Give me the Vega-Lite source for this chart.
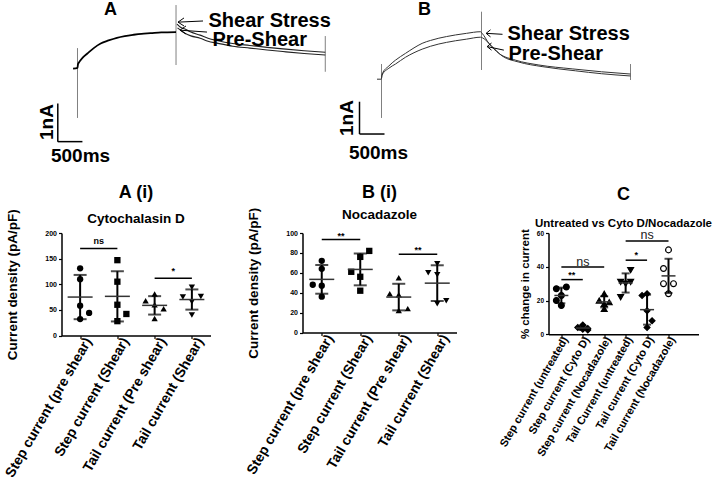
{
  "$schema": "https://vega.github.io/schema/vega-lite/v6.json",
  "padding": {"left": 2.5, "top": 0, "right": 0, "bottom": 0},
  "background": "white",
  "bounds": "full",
  "spacing": 13,
  "resolve": {"scale": {"shape": "independent", "fill": "independent", "xOffset": "independent"}},
  "config": {
    "view": {"stroke": null},
    "font": "Liberation Sans",
    "axis": {"domainColor": "black", "tickColor": "black", "labelColor": "black", "titleColor": "black", "grid": false, "labelFontWeight": "bold", "titleFontWeight": "bold", "domainWidth": 1.5, "tickWidth": 1.2},
    "title": {"color": "black", "subtitleColor": "black", "fontWeight": "bold", "subtitleFontWeight": "bold", "font": "Liberation Sans", "subtitleFont": "Liberation Sans"}
  },
  "datasets": {
    "stepA": [
      {"t": -90, "i": 0}, {"t": 0, "i": 0.02}, {"t": 10, "i": 0.12}, {"t": 50, "i": 0.2}, {"t": 120, "i": 0.31}, {"t": 200, "i": 0.4}, {"t": 330, "i": 0.54}, {"t": 470, "i": 0.66}, {"t": 630, "i": 0.74}, {"t": 800, "i": 0.81}, {"t": 960, "i": 0.855}, {"t": 1140, "i": 0.89}, {"t": 1300, "i": 0.915}, {"t": 1480, "i": 0.93}, {"t": 1700, "i": 0.95}, {"t": 2000, "i": 0.96}
    ],
    "tailA": [
      {"s": "shear", "t": 2020, "i": 1.17}, {"s": "shear", "t": 2100, "i": 1.08}, {"s": "shear", "t": 2180, "i": 1.04}, {"s": "shear", "t": 2300, "i": 0.96}, {"s": "shear", "t": 2490, "i": 0.88}, {"s": "shear", "t": 2650, "i": 0.8}, {"s": "shear", "t": 2830, "i": 0.74}, {"s": "shear", "t": 3150, "i": 0.66}, {"s": "shear", "t": 3500, "i": 0.61}, {"s": "shear", "t": 3850, "i": 0.56}, {"s": "shear", "t": 4170, "i": 0.52}, {"s": "shear", "t": 4600, "i": 0.47}, {"s": "shear", "t": 5030, "i": 0.43},
      {"s": "pre", "t": 2030, "i": 1.07}, {"s": "pre", "t": 2100, "i": 1.0}, {"s": "pre", "t": 2180, "i": 0.93}, {"s": "pre", "t": 2300, "i": 0.86}, {"s": "pre", "t": 2490, "i": 0.8}, {"s": "pre", "t": 2650, "i": 0.72}, {"s": "pre", "t": 2830, "i": 0.67}, {"s": "pre", "t": 3150, "i": 0.59}, {"s": "pre", "t": 3500, "i": 0.54}, {"s": "pre", "t": 3850, "i": 0.49}, {"s": "pre", "t": 4170, "i": 0.45}, {"s": "pre", "t": 4600, "i": 0.4}, {"s": "pre", "t": 5030, "i": 0.36}
    ],
    "spikesA": [
      {"t": 0, "i": 0.54, "i2": -1.29}, {"t": 2000, "i": 1.668, "i2": 0.097}, {"t": 5030, "i": 0.856, "i2": -0.08}
    ],
    "barsA": [
      {"t": -400, "i": -1.91, "t2": 100, "i2": -1.91}, {"t": -400, "i": -1.91, "t2": -400, "i2": -0.91}
    ],
    "arrowsA": [
      {"t": 2040, "i": 1.22, "t2": 2548, "i2": 1.25}, {"t": 2040, "i": 1.22, "t2": 2162, "i2": 1.33}, {"t": 2040, "i": 1.22, "t2": 2162, "i2": 1.12},
      {"t": 2081, "i": 1.01, "t2": 2629, "i2": 0.96}, {"t": 2081, "i": 1.01, "t2": 2203, "i2": 1.12}, {"t": 2081, "i": 1.01, "t2": 2203, "i2": 0.91}
    ],
    "letterA": [{"t": 670, "i": 1.54, "label": "A"}],
    "labelsA": [{"t": 2660, "i": 1.26, "label": "Shear Stress"}, {"t": 2740, "i": 0.765, "label": "Pre-Shear"}],
    "msA": [{"t": 61, "i": -2.287, "label": "500ms"}],
    "naA": [{"t": -629, "i": -1.396, "label": "1nA"}],
    "holdB": [{"t": -90, "i": 0}, {"t": 0, "i": 0}],
    "traceB": [
      {"s": "shear", "t": 0, "i": 0.02}, {"s": "shear", "t": 13, "i": 0.16}, {"s": "shear", "t": 147, "i": 0.41}, {"s": "shear", "t": 280, "i": 0.59}, {"s": "shear", "t": 480, "i": 0.8}, {"s": "shear", "t": 650, "i": 0.97}, {"s": "shear", "t": 813, "i": 1.11}, {"s": "shear", "t": 980, "i": 1.2}, {"s": "shear", "t": 1147, "i": 1.27}, {"s": "shear", "t": 1300, "i": 1.32}, {"s": "shear", "t": 1480, "i": 1.37}, {"s": "shear", "t": 1700, "i": 1.42}, {"s": "shear", "t": 1980, "i": 1.47},
      {"s": "shear", "t": 2013, "i": 1.42}, {"s": "shear", "t": 2147, "i": 1.11}, {"s": "shear", "t": 2347, "i": 0.8}, {"s": "shear", "t": 2680, "i": 0.59}, {"s": "shear", "t": 3147, "i": 0.44}, {"s": "shear", "t": 3813, "i": 0.32}, {"s": "shear", "t": 4400, "i": 0.23}, {"s": "shear", "t": 4980, "i": 0.16},
      {"s": "pre", "t": 0, "i": 0.02}, {"s": "pre", "t": 13, "i": 0.13}, {"s": "pre", "t": 147, "i": 0.34}, {"s": "pre", "t": 280, "i": 0.47}, {"s": "pre", "t": 480, "i": 0.68}, {"s": "pre", "t": 650, "i": 0.82}, {"s": "pre", "t": 813, "i": 0.93}, {"s": "pre", "t": 980, "i": 1.02}, {"s": "pre", "t": 1147, "i": 1.09}, {"s": "pre", "t": 1300, "i": 1.14}, {"s": "pre", "t": 1480, "i": 1.19}, {"s": "pre", "t": 1700, "i": 1.24}, {"s": "pre", "t": 1980, "i": 1.3},
      {"s": "pre", "t": 2020, "i": 1.28}, {"s": "pre", "t": 2213, "i": 1.01}, {"s": "pre", "t": 2413, "i": 0.72}, {"s": "pre", "t": 2747, "i": 0.53}, {"s": "pre", "t": 3213, "i": 0.39}, {"s": "pre", "t": 3880, "i": 0.26}, {"s": "pre", "t": 4400, "i": 0.17}, {"s": "pre", "t": 4980, "i": 0.1}
    ],
    "spikesB": [
      {"t": 0, "i": 0.47, "i2": -1.2}, {"t": 2000, "i": 2.09, "i2": 0.285}, {"t": 4980, "i": 0.47, "i2": -0.025}
    ],
    "barsB": [
      {"t": -440, "i": -1.697, "t2": 60, "i2": -1.697}, {"t": -440, "i": -1.697, "t2": -440, "i2": -0.697}
    ],
    "arrowsB": [
      {"t": 2093, "i": 1.42, "t2": 2420, "i2": 1.39}, {"t": 2093, "i": 1.42, "t2": 2180, "i2": 1.53}, {"t": 2093, "i": 1.42, "t2": 2180, "i2": 1.31},
      {"t": 2113, "i": 1.01, "t2": 2447, "i2": 0.9}, {"t": 2113, "i": 1.01, "t2": 2200, "i2": 1.12}, {"t": 2113, "i": 1.01, "t2": 2200, "i2": 0.9}
    ],
    "letterB": [{"t": 860, "i": 2.15, "label": "B"}],
    "labelsB": [{"t": 2520, "i": 1.399, "label": "Shear Stress"}, {"t": 2540, "i": 0.78, "label": "Pre-Shear"}],
    "msB": [{"t": -60, "i": -2.285, "label": "500ms"}],
    "naB": [{"t": -700, "i": -1.201, "label": "1nA"}],
    "pointsA": [
      {"cat": "Step current (pre shear)", "lane": "C", "v": 131}, {"cat": "Step current (pre shear)", "lane": "C", "v": 110}, {"cat": "Step current (pre shear)", "lane": "C", "v": 58}, {"cat": "Step current (pre shear)", "lane": "R", "v": 44}, {"cat": "Step current (pre shear)", "lane": "C", "v": 32},
      {"cat": "Step current (Shear)", "lane": "C", "v": 147}, {"cat": "Step current (Shear)", "lane": "C", "v": 105}, {"cat": "Step current (Shear)", "lane": "C", "v": 60}, {"cat": "Step current (Shear)", "lane": "R", "v": 42}, {"cat": "Step current (Shear)", "lane": "C", "v": 28},
      {"cat": "Tail current (Pre shear)", "lane": "C", "v": 81}, {"cat": "Tail current (Pre shear)", "lane": "L", "v": 68}, {"cat": "Tail current (Pre shear)", "lane": "C", "v": 60}, {"cat": "Tail current (Pre shear)", "lane": "R", "v": 52}, {"cat": "Tail current (Pre shear)", "lane": "C", "v": 33},
      {"cat": "Tail current (Shear)", "lane": "C", "v": 94}, {"cat": "Tail current (Shear)", "lane": "R", "v": 76}, {"cat": "Tail current (Shear)", "lane": "L", "v": 75}, {"cat": "Tail current (Shear)", "lane": "C", "v": 66}, {"cat": "Tail current (Shear)", "lane": "C", "v": 40}
    ],
    "pointsB": [
      {"cat": "Step current (pre shear)", "lane": "C", "v": 72}, {"cat": "Step current (pre shear)", "lane": "C", "v": 64}, {"cat": "Step current (pre shear)", "lane": "L", "v": 48}, {"cat": "Step current (pre shear)", "lane": "C", "v": 47}, {"cat": "Step current (pre shear)", "lane": "C", "v": 36},
      {"cat": "Step current (Shear)", "lane": "R", "v": 82}, {"cat": "Step current (Shear)", "lane": "C", "v": 76}, {"cat": "Step current (Shear)", "lane": "L", "v": 61}, {"cat": "Step current (Shear)", "lane": "C", "v": 56}, {"cat": "Step current (Shear)", "lane": "C", "v": 42},
      {"cat": "Tail current (Pre shear)", "lane": "C", "v": 55}, {"cat": "Tail current (Pre shear)", "lane": "L", "v": 39}, {"cat": "Tail current (Pre shear)", "lane": "C", "v": 38}, {"cat": "Tail current (Pre shear)", "lane": "R", "v": 24}, {"cat": "Tail current (Pre shear)", "lane": "C", "v": 22},
      {"cat": "Tail current (Shear)", "lane": "C", "v": 69}, {"cat": "Tail current (Shear)", "lane": "L", "v": 60}, {"cat": "Tail current (Shear)", "lane": "C", "v": 58}, {"cat": "Tail current (Shear)", "lane": "R", "v": 32}, {"cat": "Tail current (Shear)", "lane": "C", "v": 29}
    ],
    "pointsC": [
      {"cat": "Step current (untreated)", "lane": "L", "v": 27}, {"cat": "Step current (untreated)", "lane": "R", "v": 28}, {"cat": "Step current (untreated)", "lane": "C", "v": 23}, {"cat": "Step current (untreated)", "lane": "L", "v": 20}, {"cat": "Step current (untreated)", "lane": "C", "v": 17},
      {"cat": "Step current (Cyto D)", "lane": "C", "v": 5.5}, {"cat": "Step current (Cyto D)", "lane": "L", "v": 4}, {"cat": "Step current (Cyto D)", "lane": "R", "v": 3.5}, {"cat": "Step current (Cyto D)", "lane": "C", "v": 3}, {"cat": "Step current (Cyto D)", "lane": "R", "v": 2.5},
      {"cat": "Step current (Nocadazole)", "lane": "C", "v": 24}, {"cat": "Step current (Nocadazole)", "lane": "L", "v": 20}, {"cat": "Step current (Nocadazole)", "lane": "R", "v": 19}, {"cat": "Step current (Nocadazole)", "lane": "C", "v": 18}, {"cat": "Step current (Nocadazole)", "lane": "C", "v": 15},
      {"cat": "Tail Current (untreated)", "lane": "R", "v": 38}, {"cat": "Tail Current (untreated)", "lane": "L", "v": 31}, {"cat": "Tail Current (untreated)", "lane": "C", "v": 30}, {"cat": "Tail Current (untreated)", "lane": "R", "v": 31}, {"cat": "Tail Current (untreated)", "lane": "L", "v": 22},
      {"cat": "Tail current (Cyto D)", "lane": "C", "v": 24}, {"cat": "Tail current (Cyto D)", "lane": "L", "v": 23}, {"cat": "Tail current (Cyto D)", "lane": "C", "v": 14}, {"cat": "Tail current (Cyto D)", "lane": "R", "v": 8}, {"cat": "Tail current (Cyto D)", "lane": "C", "v": 4},
      {"cat": "Tail current (Nocadazole)", "lane": "C", "v": 50}, {"cat": "Tail current (Nocadazole)", "lane": "L", "v": 39}, {"cat": "Tail current (Nocadazole)", "lane": "L", "v": 30}, {"cat": "Tail current (Nocadazole)", "lane": "R", "v": 30}, {"cat": "Tail current (Nocadazole)", "lane": "C", "v": 24}
    ],
    "sigA": [
      {"from": "Step current (pre shear)", "to": "Step current (Shear)", "y": 170, "label": "ns"},
      {"from": "Tail current (Pre shear)", "to": "Tail current (Shear)", "y": 111.5, "label": "*"}
    ],
    "sigB": [
      {"from": "Step current (pre shear)", "to": "Step current (Shear)", "y": 93.4, "label": "**"},
      {"from": "Tail current (Pre shear)", "to": "Tail current (Shear)", "y": 78.7, "label": "**"}
    ],
    "sigCnear": [
      {"from": "Step current (untreated)", "to": "Step current (Cyto D)", "y": 32.4, "label": "**"},
      {"from": "Tail Current (untreated)", "to": "Tail current (Cyto D)", "y": 43.9, "label": "*"}
    ],
    "sigCwide": [
      {"from": "Step current (untreated)", "to": "Step current (Nocadazole)", "mid": "Step current (Cyto D)", "y": 39.8, "label": "ns"},
      {"from": "Tail Current (untreated)", "to": "Tail current (Nocadazole)", "mid": "Tail current (Cyto D)", "y": 55.3, "label": "ns"}
    ]
  },
  "vconcat": [
    {
      "hconcat": [
        {
          "width": 275, "height": 170,
          "encoding": {
            "x": {"field": "t", "type": "quantitative", "scale": {"domain": [-324.8, 5258], "nice": false, "zero": false}, "axis": null},
            "y": {"field": "i", "type": "quantitative", "scale": {"domain": [-2.653, 1.8], "nice": false, "zero": false}, "axis": null}
          },
          "layer": [
            {"data": {"name": "spikesA"}, "mark": {"type": "rule", "color": "#808080", "strokeWidth": 1}, "encoding": {"y2": {"field": "i2"}}},
            {"data": {"name": "stepA"}, "mark": {"type": "line", "color": "black", "strokeWidth": 1.8, "interpolate": "monotone"}, "encoding": {}},
            {"data": {"name": "tailA"}, "mark": {"type": "line", "color": "#222", "strokeWidth": 1.1, "interpolate": "monotone"}, "encoding": {"detail": {"field": "s"}}},
            {"data": {"name": "barsA"}, "mark": {"type": "rule", "color": "black", "strokeWidth": 1.5}, "encoding": {"x2": {"field": "t2"}, "y2": {"field": "i2"}}},
            {"data": {"name": "arrowsA"}, "mark": {"type": "rule", "color": "black", "strokeWidth": 1}, "encoding": {"x2": {"field": "t2"}, "y2": {"field": "i2"}}},
            {"data": {"name": "letterA"}, "mark": {"type": "text", "fontSize": 18, "fontWeight": "bold", "align": "center", "baseline": "middle"}, "encoding": {"text": {"field": "label"}}},
            {"data": {"name": "labelsA"}, "mark": {"type": "text", "fontSize": 20, "fontWeight": "bold", "align": "left", "baseline": "middle"}, "encoding": {"text": {"field": "label"}}},
            {"data": {"name": "msA"}, "mark": {"type": "text", "fontSize": 19, "fontWeight": "bold", "align": "center", "baseline": "middle"}, "encoding": {"text": {"field": "label"}}},
            {"data": {"name": "naA"}, "mark": {"type": "text", "fontSize": 19, "fontWeight": "bold", "align": "center", "baseline": "middle", "angle": 270}, "encoding": {"text": {"field": "label"}}}
          ]
        },
        {
          "width": 377, "height": 170,
          "encoding": {
            "x": {"field": "t", "type": "quantitative", "scale": {"domain": [-900, 6640], "nice": false, "zero": false}, "axis": null},
            "y": {"field": "i", "type": "quantitative", "scale": {"domain": [-2.811, 2.452], "nice": false, "zero": false}, "axis": null}
          },
          "layer": [
            {"data": {"name": "spikesB"}, "mark": {"type": "rule", "color": "#808080", "strokeWidth": 1}, "encoding": {"y2": {"field": "i2"}}},
            {"data": {"name": "holdB"}, "mark": {"type": "line", "color": "#333", "strokeWidth": 1}, "encoding": {}},
            {"data": {"name": "traceB"}, "mark": {"type": "line", "color": "#333", "strokeWidth": 1, "interpolate": "monotone"}, "encoding": {"detail": {"field": "s"}}},
            {"data": {"name": "barsB"}, "mark": {"type": "rule", "color": "black", "strokeWidth": 1.5}, "encoding": {"x2": {"field": "t2"}, "y2": {"field": "i2"}}},
            {"data": {"name": "arrowsB"}, "mark": {"type": "rule", "color": "black", "strokeWidth": 1}, "encoding": {"x2": {"field": "t2"}, "y2": {"field": "i2"}}},
            {"data": {"name": "letterB"}, "mark": {"type": "text", "fontSize": 18, "fontWeight": "bold", "align": "center", "baseline": "middle"}, "encoding": {"text": {"field": "label"}}},
            {"data": {"name": "labelsB"}, "mark": {"type": "text", "fontSize": 20, "fontWeight": "bold", "align": "left", "baseline": "middle"}, "encoding": {"text": {"field": "label"}}},
            {"data": {"name": "msB"}, "mark": {"type": "text", "fontSize": 19, "fontWeight": "bold", "align": "center", "baseline": "middle"}, "encoding": {"text": {"field": "label"}}},
            {"data": {"name": "naB"}, "mark": {"type": "text", "fontSize": 19, "fontWeight": "bold", "align": "center", "baseline": "middle", "angle": 270}, "encoding": {"text": {"field": "label"}}}
          ]
        }
      ],
      "spacing": 0,
      "bounds": "flush"
    },
    {
      "hconcat": [
        {
          "width": 149, "height": 102.5,
          "title": {"text": "A (i)", "subtitle": "Cytochalasin D", "fontSize": 18, "subtitleFontSize": 13.5, "subtitlePadding": 10.5, "offset": -16.75, "frame": "group", "anchor": "middle"},
          "encoding": {
            "x": {"field": "cat", "type": "nominal", "scale": {"type": "point", "padding": 0.5, "domain": ["Step current (pre shear)", "Step current (Shear)", "Tail current (Pre shear)", "Tail current (Shear)"]}, "axis": {"title": null, "labelAngle": -60, "labelFontSize": 14, "labelAlign": "right", "labelBaseline": "middle", "tickSize": 3, "labelPadding": 0, "labelOffset": 8}},
            "y": {"field": "v", "type": "quantitative", "scale": {"domain": [0, 200], "nice": false}, "axis": {"title": "Current density (pA/pF)", "titleFontSize": 13.5, "titlePadding": 25, "values": [0, 50, 100, 150, 200], "labelFontSize": 7, "tickSize": 3, "labelPadding": 2}}
          },
          "layer": [
            {"data": {"name": "pointsA"}, "mark": {"type": "point", "filled": true, "size": 40, "color": "black", "opacity": 1},
             "encoding": {
               "xOffset": {"field": "lane", "type": "nominal", "scale": {"type": "point", "domain": ["L", "C", "R"], "range": [-9, 9], "padding": 0}},
               "shape": {"field": "cat", "type": "nominal", "scale": {"domain": ["Step current (pre shear)", "Step current (Shear)", "Tail current (Pre shear)", "Tail current (Shear)"], "range": ["circle", "square", "triangle-up", "triangle-down"]}, "legend": null}
             }},
            {"data": {"name": "pointsA"}, "mark": {"type": "errorbar", "extent": "stdev", "color": "black", "thickness": 2, "ticks": {"size": 13, "thickness": 2, "color": "black"}}},
            {"data": {"name": "pointsA"}, "mark": {"type": "tick", "color": "#333", "size": 25, "thickness": 1.5}, "encoding": {"y": {"field": "v", "type": "quantitative", "aggregate": "mean", "title": "Current density (pA/pF)"}}},
            {"data": {"name": "sigA"}, "mark": {"type": "rule", "color": "black", "strokeWidth": 1.5}, "encoding": {"x": {"field": "from", "type": "nominal"}, "x2": {"field": "to"}, "y": {"field": "y", "type": "quantitative", "title": "Current density (pA/pF)"}}},
            {"data": {"name": "sigA"}, "mark": {"type": "text", "dx": 18.6, "dy": -2, "baseline": "bottom", "fontSize": 9, "fontWeight": "bold"}, "encoding": {"x": {"field": "from", "type": "nominal"}, "y": {"field": "y", "type": "quantitative", "title": "Current density (pA/pF)"}, "text": {"field": "label"}}}
          ]
        },
        {
          "width": 154, "height": 99.5,
          "title": {"text": "B (i)", "subtitle": "Nocadazole", "fontSize": 18, "subtitleFontSize": 13.5, "subtitlePadding": 6.2, "offset": -14, "frame": "group", "anchor": "middle"},
          "encoding": {
            "x": {"field": "cat", "type": "nominal", "scale": {"type": "point", "padding": 0.5, "domain": ["Step current (pre shear)", "Step current (Shear)", "Tail current (Pre shear)", "Tail current (Shear)"]}, "axis": {"title": null, "labelAngle": -60, "labelFontSize": 14, "labelAlign": "right", "labelBaseline": "middle", "tickSize": 3, "labelPadding": 0, "labelOffset": 8}},
            "y": {"field": "v", "type": "quantitative", "scale": {"domain": [0, 100], "nice": false}, "axis": {"title": "Current density (pA/pF)", "titleFontSize": 13.5, "titlePadding": 25, "values": [0, 20, 40, 60, 80, 100], "labelFontSize": 7, "tickSize": 3, "labelPadding": 2}}
          },
          "layer": [
            {"data": {"name": "pointsB"}, "mark": {"type": "point", "filled": true, "size": 40, "color": "black", "opacity": 1},
             "encoding": {
               "xOffset": {"field": "lane", "type": "nominal", "scale": {"type": "point", "domain": ["L", "C", "R"], "range": [-9, 9], "padding": 0}},
               "shape": {"field": "cat", "type": "nominal", "scale": {"domain": ["Step current (pre shear)", "Step current (Shear)", "Tail current (Pre shear)", "Tail current (Shear)"], "range": ["circle", "square", "triangle-up", "triangle-down"]}, "legend": null}
             }},
            {"data": {"name": "pointsB"}, "mark": {"type": "errorbar", "extent": "stdev", "color": "black", "thickness": 2, "ticks": {"size": 13, "thickness": 2, "color": "black"}}},
            {"data": {"name": "pointsB"}, "mark": {"type": "tick", "color": "#333", "size": 25, "thickness": 1.5}, "encoding": {"y": {"field": "v", "type": "quantitative", "aggregate": "mean", "title": "Current density (pA/pF)"}}},
            {"data": {"name": "sigB"}, "mark": {"type": "rule", "color": "black", "strokeWidth": 1.5}, "encoding": {"x": {"field": "from", "type": "nominal"}, "x2": {"field": "to"}, "y": {"field": "y", "type": "quantitative", "title": "Current density (pA/pF)"}}},
            {"data": {"name": "sigB"}, "mark": {"type": "text", "dx": 19.2, "dy": 1, "baseline": "bottom", "fontSize": 9, "fontWeight": "bold"}, "encoding": {"x": {"field": "from", "type": "nominal"}, "y": {"field": "y", "type": "quantitative", "title": "Current density (pA/pF)"}, "text": {"field": "label"}}}
          ]
        },
        {
          "width": 150, "height": 101.3,
          "title": {"text": "C", "subtitle": "Untreated vs Cyto D/Nocadazole", "fontSize": 18, "subtitleFontSize": 11.5, "subtitlePadding": 13.7, "offset": -0.7, "frame": "group", "anchor": "middle"},
          "encoding": {
            "x": {"field": "cat", "type": "nominal", "scale": {"type": "point", "padding": 1.09, "align": 0.3, "domain": ["Step current (untreated)", "Step current (Cyto D)", "Step current (Nocadazole)", "Tail Current (untreated)", "Tail current (Cyto D)", "Tail current (Nocadazole)"]}, "axis": {"title": null, "labelAngle": -60, "labelFontSize": 11, "labelAlign": "right", "labelBaseline": "middle", "tickSize": 3, "labelPadding": 0, "labelOffset": 4}},
            "y": {"field": "v", "type": "quantitative", "scale": {"domain": [0, 60], "nice": false}, "axis": {"title": "% change in current", "titleFontSize": 11.5, "titlePadding": 6, "values": [0, 20, 40, 60], "labelFontSize": 6.5, "tickSize": 3, "labelPadding": 2}}
          },
          "layer": [
            {"data": {"name": "pointsC"}, "mark": {"type": "point", "filled": true, "size": 34, "stroke": "black", "strokeWidth": 1.2, "opacity": 1},
             "encoding": {
               "xOffset": {"field": "lane", "type": "nominal", "scale": {"type": "point", "domain": ["L", "C", "R"], "range": [-5, 5], "padding": 0}},
               "shape": {"field": "cat", "type": "nominal", "scale": {"domain": ["Step current (untreated)", "Step current (Cyto D)", "Step current (Nocadazole)", "Tail Current (untreated)", "Tail current (Cyto D)", "Tail current (Nocadazole)"], "range": ["circle", "diamond", "triangle-up", "triangle-down", "diamond", "circle"]}, "legend": null},
               "fill": {"field": "cat", "type": "nominal", "scale": {"domain": ["Step current (untreated)", "Step current (Cyto D)", "Step current (Nocadazole)", "Tail Current (untreated)", "Tail current (Cyto D)", "Tail current (Nocadazole)"], "range": ["black", "black", "black", "black", "black", "white"]}, "legend": null}
             }},
            {"data": {"name": "pointsC"}, "mark": {"type": "errorbar", "extent": "stdev", "color": "black", "thickness": 2, "ticks": {"size": 8, "thickness": 2, "color": "black"}}},
            {"data": {"name": "pointsC"}, "mark": {"type": "tick", "color": "#333", "size": 14, "thickness": 1.5}, "encoding": {"y": {"field": "v", "type": "quantitative", "aggregate": "mean", "title": "% change in current"}}},
            {"data": {"name": "sigCnear"}, "mark": {"type": "rule", "color": "black", "strokeWidth": 1.5}, "encoding": {"x": {"field": "from", "type": "nominal"}, "x2": {"field": "to"}, "y": {"field": "y", "type": "quantitative", "title": "% change in current"}}},
            {"data": {"name": "sigCwide"}, "mark": {"type": "rule", "color": "black", "strokeWidth": 1.5}, "encoding": {"x": {"field": "from", "type": "nominal"}, "x2": {"field": "to"}, "y": {"field": "y", "type": "quantitative", "title": "% change in current"}}},
            {"data": {"name": "sigCnear"}, "mark": {"type": "text", "dx": 10.5, "dy": 0, "baseline": "bottom", "fontSize": 9, "fontWeight": "bold"}, "encoding": {"x": {"field": "from", "type": "nominal"}, "y": {"field": "y", "type": "quantitative", "title": "% change in current"}, "text": {"field": "label"}}},
            {"data": {"name": "sigCwide"}, "mark": {"type": "text", "dy": -1.5, "baseline": "alphabetic", "fontSize": 12.5, "fontWeight": "normal", "color": "#222"}, "encoding": {"x": {"field": "mid", "type": "nominal"}, "y": {"field": "y", "type": "quantitative", "title": "% change in current"}, "text": {"field": "label"}}}
          ]
        }
      ],
      "spacing": 92,
      "bounds": "flush",
      "resolve": {"scale": {"shape": "independent", "fill": "independent", "xOffset": "independent"}}
    }
  ]
}
